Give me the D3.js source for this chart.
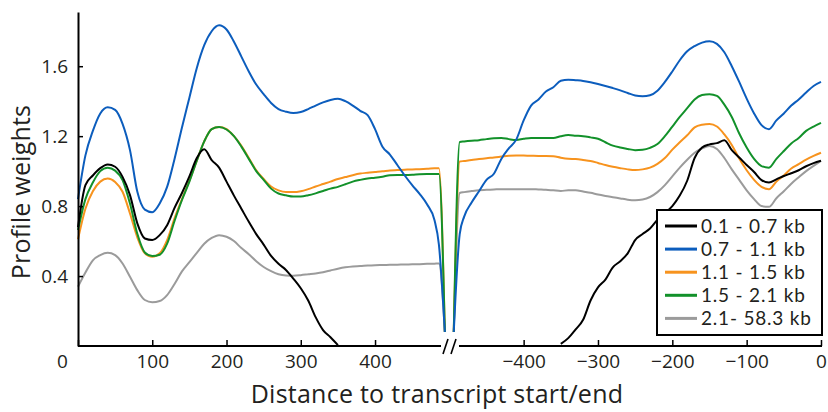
<!DOCTYPE html>
<html>
<head>
<meta charset="utf-8">
<script src="https://cdn.jsdelivr.net/npm/d3@7"></script>
<style>
  html, body { margin: 0; padding: 0; background: #fff; }
  svg { display: block; font-family: "Open Sans", sans-serif; }
</style>
</head>
<body>
<svg id="chart" width="828" height="412"></svg>
<script>
// Positions (bp) downstream of the transcript start (left panel)
const posLeft = [0,10,20,30,40,50,60,70,80,90,100,110,120,130,140,150,160,170,180,190,200,210,220,230,240,250,260,270,280,290,300,310,320,330,340,350,360,370,380,390,400,410,420,430,440,450,460,470,480,486,494];
// Positions (bp) upstream of the transcript end (right panel)
const posRight = [-494,-486,-480,-470,-460,-450,-440,-430,-420,-410,-400,-390,-380,-370,-360,-350,-340,-330,-320,-310,-300,-290,-280,-270,-260,-250,-240,-230,-220,-210,-200,-190,-180,-170,-160,-150,-140,-130,-120,-110,-100,-90,-80,-70,-60,-50,-40,-30,-20,-10,0];

// Profile weights per transcript-length group
const blackLeft = [0.68,0.92,0.975,1.017,1.038,1.025,0.967,0.863,0.70,0.615,0.606,0.634,0.691,0.79,0.875,0.97,1.075,1.125,1.063,1.02,0.94,0.86,0.785,0.71,0.64,0.58,0.515,0.47,0.435,0.385,0.33,0.26,0.165,0.091,0.05,0.005,null,null,null,null,null,null,null,null,null,null,null,null,null,null,null];
const blueLeft = [0.84,1.09,1.23,1.33,1.365,1.35,1.27,1.12,0.88,0.78,0.765,0.815,0.91,1.07,1.25,1.42,1.59,1.72,1.80,1.834,1.81,1.74,1.655,1.57,1.495,1.44,1.39,1.355,1.34,1.332,1.338,1.355,1.375,1.393,1.407,1.414,1.40,1.375,1.345,1.32,1.24,1.14,1.095,1.035,0.975,0.92,0.87,0.81,0.72,0.58,0.08];
const orangeLeft = [0.61,0.785,0.885,0.94,0.958,0.938,0.882,0.758,0.62,0.53,0.51,0.53,0.606,0.73,0.84,0.945,1.06,1.17,1.24,1.253,1.24,1.20,1.145,1.075,1.005,0.955,0.912,0.89,0.88,0.88,0.885,0.897,0.912,0.926,0.94,0.955,0.966,0.977,0.986,0.991,0.995,0.999,1.004,1.006,1.008,1.01,1.011,1.013,1.016,1.017,0.08];
const greenLeft = [0.663,0.84,0.935,1.0,1.02,1.003,0.949,0.815,0.64,0.535,0.514,0.522,0.585,0.715,0.835,0.94,1.06,1.17,1.24,1.253,1.238,1.20,1.14,1.07,1.0,0.95,0.9,0.872,0.862,0.855,0.855,0.862,0.873,0.886,0.9,0.91,0.925,0.94,0.95,0.958,0.962,0.968,0.977,0.978,0.978,0.979,0.982,0.983,0.983,0.983,0.08];
const grayLeft = [0.339,0.42,0.49,0.52,0.533,0.52,0.472,0.396,0.318,0.263,0.25,0.257,0.291,0.355,0.427,0.48,0.533,0.585,0.618,0.634,0.625,0.6,0.56,0.525,0.485,0.452,0.428,0.41,0.403,0.402,0.405,0.41,0.415,0.422,0.432,0.442,0.45,0.455,0.457,0.46,0.462,0.463,0.464,0.465,0.466,0.467,0.468,0.47,0.471,0.472,0.08];

const blackRight = [null,null,null,null,null,null,null,null,null,null,null,null,null,null,null,0.012,0.045,0.095,0.15,0.26,0.335,0.38,0.45,0.485,0.53,0.606,0.64,0.672,0.722,0.76,0.80,0.86,0.945,1.075,1.135,1.153,1.16,1.177,1.12,1.078,1.035,0.995,0.949,0.935,0.953,0.972,0.988,1.005,1.028,1.046,1.059];
const blueRight = [0.08,0.64,0.74,0.82,0.885,0.95,0.985,1.07,1.13,1.18,1.29,1.375,1.41,1.455,1.48,1.517,1.523,1.52,1.516,1.508,1.498,1.487,1.475,1.462,1.447,1.432,1.428,1.434,1.46,1.51,1.57,1.634,1.685,1.715,1.735,1.743,1.728,1.68,1.6,1.51,1.415,1.33,1.263,1.24,1.29,1.33,1.375,1.41,1.45,1.487,1.51];
const orangeRight = [0.08,1.055,1.058,1.063,1.069,1.074,1.078,1.083,1.088,1.09,1.089,1.088,1.087,1.087,1.085,1.077,1.071,1.069,1.064,1.058,1.047,1.035,1.025,1.017,1.01,1.006,1.01,1.02,1.042,1.075,1.123,1.165,1.205,1.25,1.265,1.269,1.255,1.21,1.15,1.072,1.005,0.95,0.91,0.897,0.94,0.975,1.015,1.04,1.066,1.087,1.105];
const greenRight = [0.08,1.167,1.17,1.174,1.177,1.183,1.188,1.19,1.183,1.178,1.185,1.19,1.19,1.19,1.19,1.2,1.206,1.203,1.2,1.193,1.185,1.165,1.146,1.135,1.127,1.12,1.122,1.133,1.155,1.2,1.255,1.31,1.36,1.41,1.435,1.44,1.43,1.38,1.31,1.215,1.135,1.07,1.029,1.02,1.07,1.115,1.158,1.19,1.23,1.255,1.276];
const grayRight = [0.08,0.875,0.88,0.886,0.891,0.893,0.895,0.897,0.897,0.897,0.897,0.897,0.895,0.893,0.89,0.887,0.89,0.89,0.883,0.876,0.866,0.858,0.851,0.844,0.837,0.834,0.838,0.852,0.88,0.92,0.97,1.02,1.065,1.105,1.13,1.144,1.127,1.075,1.01,0.95,0.89,0.84,0.8,0.796,0.845,0.885,0.928,0.965,1.0,1.03,1.059];

const seriesNames = ["0.1 - 0.7 kb", "0.7 - 1.1 kb", "1.1 - 1.5 kb", "1.5 - 2.1 kb", "2.1- 58.3 kb"];
const seriesColors = ["#000000", "#0c5dbd", "#f7931e", "#12912a", "#9b9b9b"];
const leftTicks = [0, 100, 200, 300, 400];
const rightTicks = [-400, -300, -200, -100, 0];
const yTicks = [0.4, 0.8, 1.2, 1.6];

const series = [
  { name: seriesNames[0], color: seriesColors[0], left: blackLeft,  right: blackRight },
  { name: seriesNames[1], color: seriesColors[1], left: blueLeft,   right: blueRight },
  { name: seriesNames[2], color: seriesColors[2], left: orangeLeft, right: orangeRight },
  { name: seriesNames[3], color: seriesColors[3], left: greenLeft,  right: greenRight },
  { name: seriesNames[4], color: seriesColors[4], left: grayLeft,   right: grayRight }
];

const svg = d3.select("#chart");
const textColor = "#231f20";
const tickFont = "Open Sans, sans-serif";

// Scales: one y, and two x halves joined at the axis break
const y  = d3.scaleLinear().domain([0, 1.91]).range([346, 12]);
const xL = d3.scaleLinear().domain([0, 500]).range([78, 449.3]);
const xR = d3.scaleLinear().domain([-500, 0]).range([449.3, 821]);

// Curves (gray first, blue on top)
const drawOrder = [4, 2, 3, 0, 1];
const lineL = d3.line().defined(d => d[1] != null).x(d => xL(d[0])).y(d => y(d[1])).curve(d3.curveMonotoneX);
const lineR = d3.line().defined(d => d[1] != null).x(d => xR(d[0])).y(d => y(d[1])).curve(d3.curveMonotoneX);
const gLines = svg.append("g").attr("fill", "none").attr("stroke-width", 2).attr("stroke-linejoin", "round");
drawOrder.forEach(i => {
  const s = series[i];
  gLines.append("path").attr("stroke", s.color).attr("d", lineL(posLeft.map((p, j) => [p, s.left[j]])));
  gLines.append("path").attr("stroke", s.color).attr("d", lineR(posRight.map((p, j) => [p, s.right[j]])));
});

// Y axis
const gy = svg.append("g").attr("transform", "translate(78,0)")
  .call(d3.axisLeft(y).tickValues(yTicks).tickSizeInner(-5).tickSizeOuter(0).tickPadding(10).tickFormat(d3.format(".1f")));
gy.select(".domain").attr("stroke-width", 2);
gy.selectAll(".tick line").attr("stroke-width", 1.5);
gy.selectAll("text").attr("font-size", 19).attr("fill", textColor).attr("font-family", tickFont);

// X axes (two halves)
function styleX(g) {
  g.select(".domain").remove();
  g.selectAll(".tick line").attr("stroke-width", 1.5);
  g.selectAll("text").attr("font-size", 19).attr("fill", textColor).attr("font-family", tickFont);
}
const gxL = svg.append("g").attr("transform", "translate(0,346)")
  .call(d3.axisBottom(xL).tickValues(leftTicks).tickSizeInner(-6).tickSizeOuter(0).tickPadding(9));
styleX(gxL);
gxL.selectAll(".tick").filter(d => d === 0).select("text").attr("dx", -16);
const gxR = svg.append("g").attr("transform", "translate(0,346)")
  .call(d3.axisBottom(xR).tickValues(rightTicks).tickSizeInner(-6).tickSizeOuter(0).tickPadding(9));
styleX(gxR);

// Baseline with the // break mark
const axisLine = svg.append("g").attr("stroke", "#000").attr("stroke-width", 2).attr("fill", "none");
axisLine.append("line").attr("x1", xL(0)).attr("x2", 441).attr("y1", 346).attr("y2", 346);
axisLine.append("line").attr("x1", 459).attr("x2", xR(0) + 1).attr("y1", 346).attr("y2", 346);
axisLine.append("line").attr("x1", 443).attr("y1", 354).attr("x2", 448).attr("y2", 339).attr("stroke-width", 1.6);
axisLine.append("line").attr("x1", 451).attr("y1", 354).attr("x2", 456).attr("y2", 339).attr("stroke-width", 1.6);

// Axis titles
svg.append("text").attr("transform", "translate(30,192) rotate(-90)")
  .attr("text-anchor", "middle").attr("font-size", 25).attr("letter-spacing", 0.2).attr("fill", textColor)
  .text("Profile weights");
svg.append("text").attr("x", 437).attr("y", 403)
  .attr("text-anchor", "middle").attr("font-size", 25).attr("letter-spacing", 0.25).attr("fill", textColor)
  .text("Distance to transcript start/end");

// Legend
const legend = svg.append("g").attr("transform", "translate(657,210)");
legend.append("rect").attr("width", 165).attr("height", 125)
  .attr("fill", "#fff").attr("stroke", "#000").attr("stroke-width", 2);
series.forEach((s, i) => {
  const row = legend.append("g").attr("transform", `translate(0,${16 + i * 23.1})`);
  row.append("line").attr("x1", 8).attr("x2", 40).attr("stroke", s.color).attr("stroke-width", 3);
  row.append("text").attr("x", 44).attr("dy", "0.36em").attr("font-size", 19)
    .attr("font-family", "Lato, sans-serif").attr("letter-spacing", 0.8)
    .attr("fill", textColor).text(s.name);
});
</script>
</body>
</html>
